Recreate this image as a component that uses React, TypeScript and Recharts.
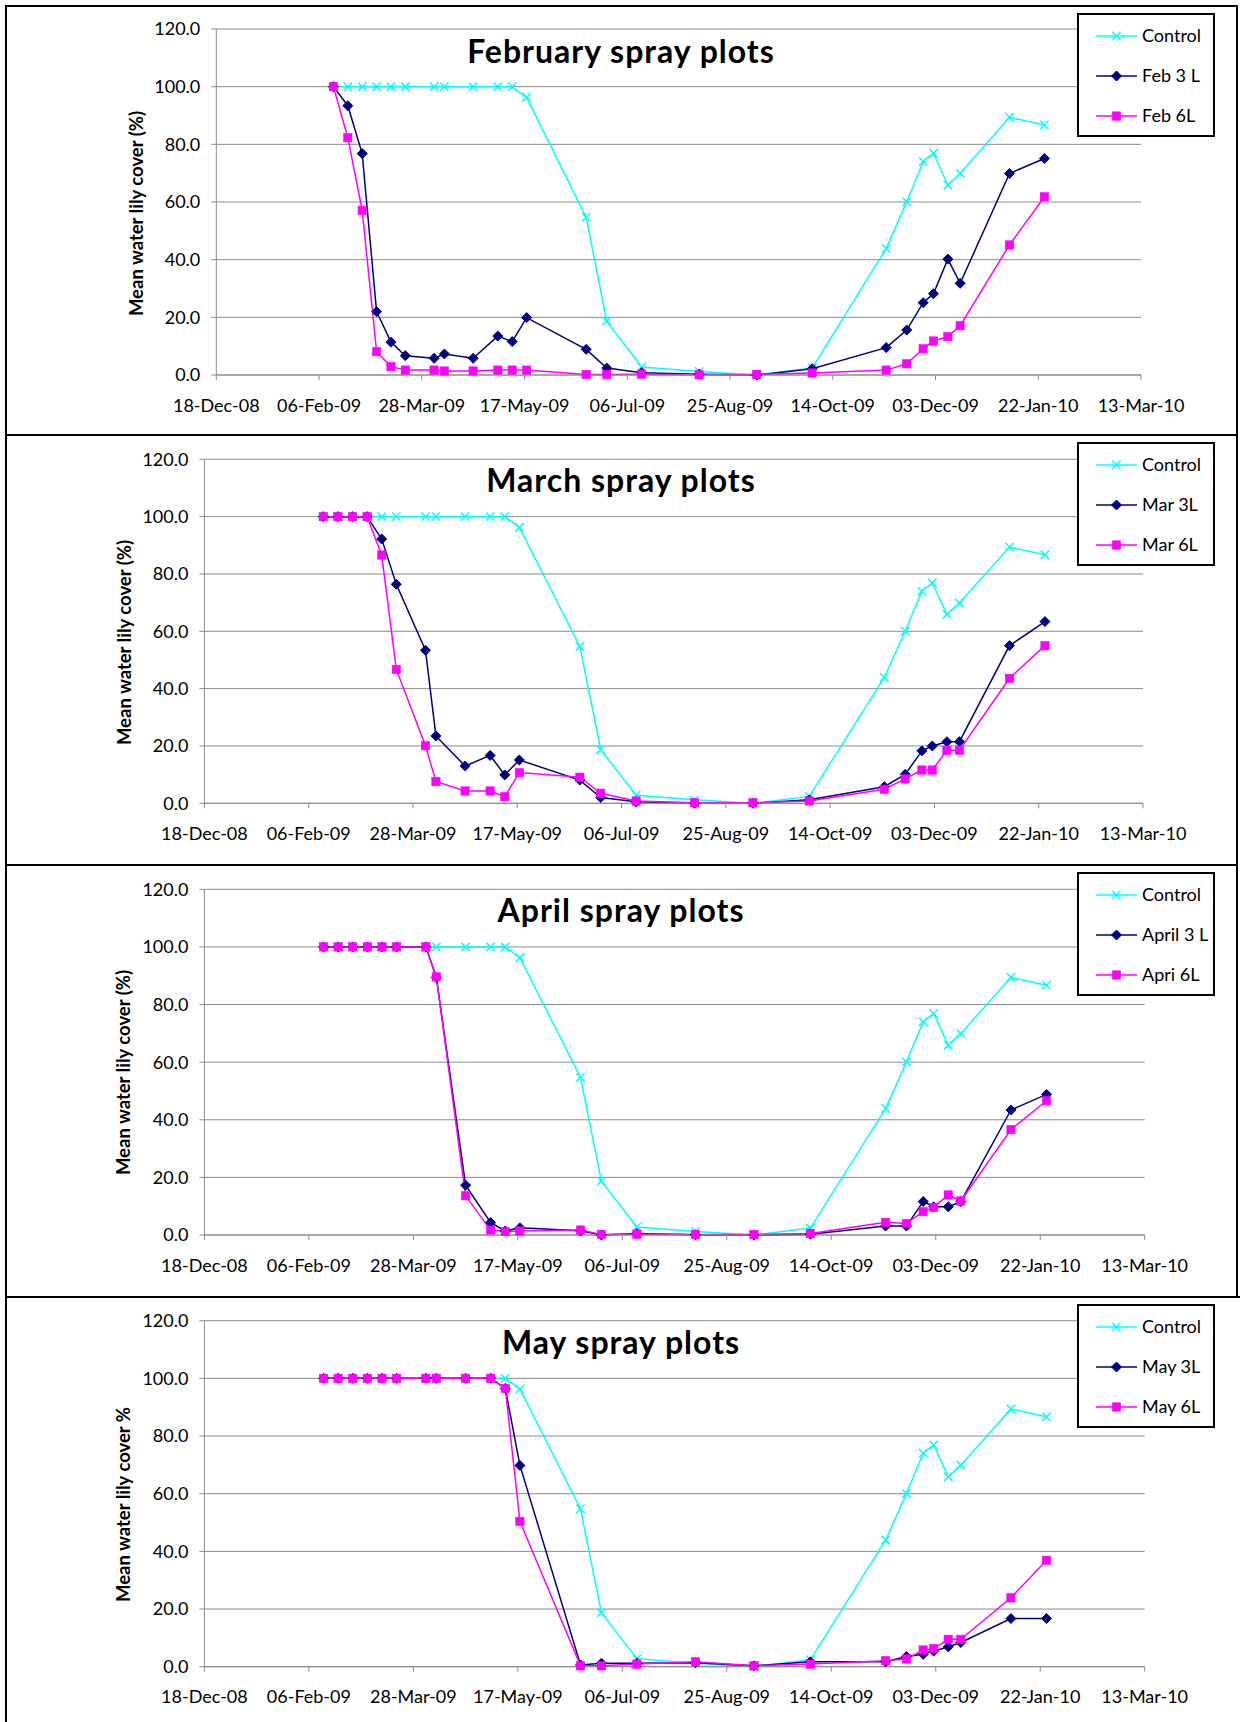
// Four stacked line charts: water lily cover after herbicide spraying, by spray month
import { LineChart, Line, XAxis, YAxis, CartesianGrid } from "recharts";

// Sampling dates shared by every series
const sampleDates = [
  "2009-02-13", "2009-02-20", "2009-02-27", "2009-03-06", "2009-03-13", "2009-03-20",
  "2009-04-03", "2009-04-08", "2009-04-22", "2009-05-04", "2009-05-11", "2009-05-18",
  "2009-06-16", "2009-06-26", "2009-07-13", "2009-08-10", "2009-09-07", "2009-10-04",
  "2009-11-09", "2009-11-19", "2009-11-27", "2009-12-02", "2009-12-09", "2009-12-15",
  "2010-01-08", "2010-01-25",
];

const controlCover = [
  100, 100, 100, 100, 100, 100, 100, 100, 100, 100, 100, 96.3, 54.7, 18.7, 2.8, 1.2, 0.0, 2.4,
  43.9, 60.1, 74.0, 76.9, 65.9, 69.9, 89.4, 86.7,
];

const feb3L = [
  100, 93.4, 76.8, 22.0, 11.4, 6.7, 5.8, 7.3, 5.8, 13.5, 11.6, 19.9, 8.9, 2.4, 0.8, 0.3, 0.0, 2.2,
  9.5, 15.6, 25.1, 28.2, 40.2, 31.8, 69.9, 75.1,
];
const feb6L = [
  100, 82.3, 57.1, 8.1, 2.9, 1.7, 1.7, 1.4, 1.4, 1.7, 1.7, 1.7, 0.2, 0.2, 0.3, 0.1, 0.2, 0.7,
  1.7, 3.9, 9.1, 11.8, 13.3, 17.1, 45.1, 61.8,
];

const mar3L = [
  100, 100, 100, 100, 92.2, 76.4, 53.4, 23.5, 13.0, 16.7, 9.9, 15.1, 8.1, 2.0, 0.5, 0.0, 0.0, 1.2,
  5.8, 10.1, 18.3, 20.0, 21.5, 21.5, 55.0, 63.4,
];
const mar6L = [
  100, 100, 100, 100, 86.6, 46.7, 20.1, 7.6, 4.3, 4.3, 2.3, 10.7, 9.1, 3.5, 0.8, 0.2, 0.2, 0.8,
  4.9, 8.5, 11.6, 11.6, 18.5, 18.5, 43.6, 55.0,
];

const apr3L = [
  100, 100, 100, 100, 100, 100, 100, 89.4, 17.3, 4.3, 1.4, 2.5, 1.5, 0.0, 0.5, 0.1, 0.0, 0.3,
  3.1, 3.1, 11.6, 9.8, 9.8, 11.6, 43.4, 48.8,
];
const apr6L = [
  100, 100, 100, 100, 100, 100, 100, 89.6, 13.6, 1.7, 1.2, 1.4, 1.7, 0.2, 0.3, 0.2, 0.2, 0.5,
  4.4, 4.0, 8.1, 9.6, 13.9, 11.8, 36.6, 46.6,
];

const may3L = [
  100, 100, 100, 100, 100, 100, 100, 100, 100, 100, 96.5, 69.8, 0.6, 1.2, 1.2, 1.4, 0.3, 1.7,
  1.7, 3.5, 4.3, 5.4, 6.9, 8.4, 16.7, 16.7,
];
const may6L = [
  100, 100, 100, 100, 100, 100, 100, 100, 100, 100, 96.5, 50.4, 0.3, 0.3, 0.9, 1.7, 0.3, 0.9,
  2.1, 2.7, 5.8, 6.3, 9.5, 9.5, 23.9, 36.9,
];

const panelTitles = ["February spray plots", "March spray plots", "April spray plots", "May spray plots"];
const lowDoseSeries = [feb3L, mar3L, apr3L, may3L];
const highDoseSeries = [feb6L, mar6L, apr6L, may6L];
const legendNames = [
  ["Control", "Feb 3 L", "Feb 6L"],
  ["Control", "Mar 3L", "Mar 6L"],
  ["Control", "April 3 L", "Apri 6L"],
  ["Control", "May 3L", "May 6L"],
];
const yAxisTitles = [
  "Mean water lily cover (%)",
  "Mean water lily cover (%)",
  "Mean water lily cover (%)",
  "Mean water lily cover %",
];

const xTickDates = [
  "2008-12-18", "2009-02-06", "2009-03-28", "2009-05-17", "2009-07-06",
  "2009-08-25", "2009-10-14", "2009-12-03", "2010-01-22", "2010-03-13",
];
const yTicks = [0, 20, 40, 60, 80, 100, 120];

// Excel-style day serials for the x axis
const DAY_MS = 86400000;
const EPOCH = Date.UTC(1899, 11, 30);
const MONTHS = ["Jan", "Feb", "Mar", "Apr", "May", "Jun", "Jul", "Aug", "Sep", "Oct", "Nov", "Dec"];
const toSerial = (iso: string) => Math.round((Date.parse(iso) - EPOCH) / DAY_MS);
const pad = (n: number) => String(n).padStart(2, "0");
const formatDate = (serial: number) => {
  const d = new Date(EPOCH + serial * DAY_MS);
  return `${pad(d.getUTCDate())}-${MONTHS[d.getUTCMonth()]}-${pad(d.getUTCFullYear() % 100)}`;
};
const xTicks = xTickDates.map(toSerial);

const CYAN = "#00FFFF";
const NAVY = "#000080";
const MAGENTA = "#FF00FF";
const GRID = "#8c8c8c";
const FONT = "Lato, 'Open Sans', sans-serif";

// panel placement, page pixels
const PANELS = [
  { top: 6, height: 429, left: 216.3, right: 1141, plotTop: 23, plotBottom: 369, labelX: 135.6 },
  { top: 435, height: 430, left: 204.4, right: 1143, plotTop: 24.3, plotBottom: 368.3, labelX: 123.6 },
  { top: 865, height: 431, left: 204.4, right: 1144.7, plotTop: 24.3, plotBottom: 370, labelX: 123 },
  { top: 1297, height: 425, left: 204.4, right: 1144.7, plotTop: 23.7, plotBottom: 369.7, labelX: 123 },
];

type DotProps = { cx?: number; cy?: number; index?: number };

function crossShape(cx: number, cy: number, key?: string | number) {
  const r = 4.2;
  return (
    <path
      key={key}
      d={`M${cx - r},${cy - r}L${cx + r},${cy + r}M${cx - r},${cy + r}L${cx + r},${cy - r}`}
      stroke={CYAN}
      strokeWidth={1.5}
      fill="none"
    />
  );
}
function diamondShape(cx: number, cy: number, key?: string | number) {
  const r = 5;
  return <path key={key} d={`M${cx},${cy - r}L${cx + r},${cy}L${cx},${cy + r}L${cx - r},${cy}Z`} fill={NAVY} stroke={NAVY} />;
}
function squareShape(cx: number, cy: number, key?: string | number) {
  const r = 4.2;
  return <rect key={key} x={cx - r} y={cy - r} width={2 * r} height={2 * r} fill={MAGENTA} stroke={MAGENTA} strokeWidth={0.5} />;
}

const SHAPES = [crossShape, diamondShape, squareShape];
const COLORS = [CYAN, NAVY, MAGENTA];

function makeDot(shape: typeof crossShape) {
  return (p: DotProps) => {
    if (p.cx == null || p.cy == null) return <g key={`d-${p.index}`} />;
    return shape(p.cx, p.cy, `d-${p.index}`);
  };
}

function Legend({ names }: { names: string[] }) {
  return (
    <div
      style={{
        position: "absolute",
        left: 1077,
        top: 7,
        width: 134,
        height: 120,
        border: "2px solid #000",
        background: "#fff",
      }}
    >
      <svg width={134} height={120} style={{ position: "absolute", left: 0, top: 0 }}>
        {names.map((name, i) => {
          const y = 21 + i * 40;
          return (
            <g key={name}>
              <line x1={17} x2={58} y1={y} y2={y} stroke={COLORS[i]} strokeWidth={1.5} />
              {SHAPES[i](37.5, y)}
              <text x={63} y={y} dy="0.35em" fontSize={18} fontFamily={FONT} fill="#000">
                {name}
              </text>
            </g>
          );
        })}
      </svg>
    </div>
  );
}

function SprayPanel({ index }: { index: number }) {
  const box = PANELS[index];
  const low = lowDoseSeries[index];
  const high = highDoseSeries[index];
  const data = sampleDates.map((d, i) => ({
    day: toSerial(d),
    control: controlCover[i],
    low: low[i],
    high: high[i],
  }));
  const axisHeight = 40;
  const labelY = 207.5;

  return (
    <div style={{ position: "absolute", left: 0, top: box.top, width: 1240, height: box.height }}>
      <LineChart
        width={1240}
        height={box.height}
        data={data}
        margin={{ top: box.plotTop, right: 1240 - box.right, left: 0, bottom: box.height - box.plotBottom - axisHeight }}
      >
        <CartesianGrid vertical={false} stroke={GRID} strokeWidth={1} />
        <XAxis
          dataKey="day"
          type="number"
          domain={[xTicks[0], xTicks[xTicks.length - 1]]}
          ticks={xTicks}
          interval={0}
          tickFormatter={formatDate}
          height={axisHeight}
          tickSize={5}
          tickMargin={19}
          axisLine={{ stroke: GRID }}
          tickLine={{ stroke: GRID }}
          tick={{ fill: "#000", fontSize: 18, fontFamily: FONT }}
          allowDataOverflow
        />
        <YAxis
          type="number"
          domain={[0, 120]}
          ticks={yTicks}
          interval={0}
          width={box.left}
          tickFormatter={(v: number) => v.toFixed(1)}
          tickSize={5}
          tickMargin={11}
          axisLine={{ stroke: GRID }}
          tickLine={{ stroke: GRID }}
          tick={{ fill: "#000", fontSize: 18, fontFamily: FONT }}
          label={() => (
            <text
              x={box.labelX}
              y={labelY}
              transform={`rotate(-90 ${box.labelX} ${labelY})`}
              textAnchor="middle"
              dominantBaseline="central"
              fontSize={18.5}
              fontWeight="bold"
              fontFamily={FONT}
              fill="#000"
            >
              {yAxisTitles[index]}
            </text>
          )}
        />
        <Line
          dataKey="control"
          type="linear"
          stroke={CYAN}
          strokeWidth={1.5}
          dot={makeDot(crossShape)}
          activeDot={false}
          isAnimationActive={false}
        />
        <Line
          dataKey="low"
          type="linear"
          stroke={NAVY}
          strokeWidth={1.5}
          dot={makeDot(diamondShape)}
          activeDot={false}
          isAnimationActive={false}
        />
        <Line
          dataKey="high"
          type="linear"
          stroke={MAGENTA}
          strokeWidth={1.5}
          dot={makeDot(squareShape)}
          activeDot={false}
          isAnimationActive={false}
        />
      </LineChart>
      <svg width={1240} height={80} style={{ position: "absolute", left: 0, top: 0, pointerEvents: "none" }}>
        <text x={621} y={57} textAnchor="middle" fontSize={32} fontWeight="bold" fontFamily={FONT} fill="#000" letterSpacing={1}>
          {panelTitles[index]}
        </text>
      </svg>
      <Legend names={legendNames[index]} />
    </div>
  );
}

const lineStyle = (left: number, top: number, width: number, height: number) => ({
  position: "absolute" as const,
  left,
  top,
  width,
  height,
  background: "#000",
});

export default function App() {
  return (
    <div style={{ position: "absolute", left: 0, top: 0, width: 1240, height: 1722, background: "#fff", fontFamily: FONT, overflow: "hidden" }}>
      {panelTitles.map((_t, i) => (
        <SprayPanel key={i} index={i} />
      ))}
      {/* panel frames */}
      <div style={lineStyle(5, 5, 2, 1717)} />
      <div style={lineStyle(1236, 5, 2, 1292)} />
      <div style={lineStyle(5, 5, 1233, 2)} />
      <div style={lineStyle(5, 434, 1233, 2)} />
      <div style={lineStyle(5, 864, 1233, 2)} />
      <div style={lineStyle(5, 1296, 1235, 2)} />
    </div>
  );
}
